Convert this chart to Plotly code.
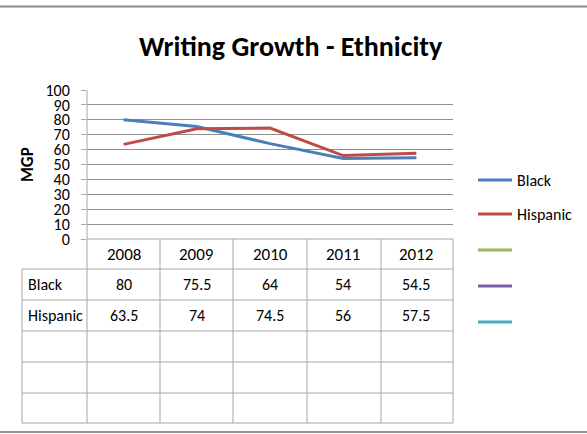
import plotly.graph_objects as go

years = ["2008", "2009", "2010", "2011", "2012"]
series_names = ["Black", "Hispanic", "", "", ""]
black = [80, 75.5, 64, 54, 54.5]
hispanic = [63.5, 74, 74.5, 56, 57.5]
colors = ["#4A7EBB", "#BE4B48", "#98B954", "#7D60A0", "#46AAC5"]
y_ticks = [0, 10, 20, 30, 40, 50, 60, 70, 80, 90, 100]

W, H = 587, 434
L, R, T, B = 87, 453, 90, 239  # plot area in pixels
FONT = "Liberation Sans Narrow, Carlito, Roboto Condensed, Arial Narrow, sans-serif"


def px(x):
    return (x - L) / (R - L)


def py(y):
    return (B - y) / (B - T)


fig = go.Figure()
x_idx = list(range(len(years)))
for name, vals, col in [(series_names[0], black, colors[0]), (series_names[1], hispanic, colors[1])]:
    fig.add_trace(go.Scatter(x=x_idx, y=vals, mode="lines", name=name,
                             line=dict(color=col, width=3), showlegend=False))

shapes = []
annotations = []
grid_col = "#909090"
tab_col = "#A6A6A6"


def txt(x, y, text, size=16, xref="paper", xanchor="center", **kw):
    annotations.append(dict(x=x, y=y, xref=xref, yref="paper", text=text, showarrow=False,
                            xanchor=xanchor, yanchor="middle",
                            font=dict(family=FONT, size=size, color="#000"), **kw))


col_edges = [87, 160, 233, 307, 381, 453]
row_edges = [239, 269, 300, 331, 362, 393, 423]
label_left = 22

for i, yy in enumerate(row_edges):
    x0 = L if i == 0 else label_left
    shapes.append(dict(type="line", xref="paper", yref="paper", x0=px(x0), x1=px(R),
                       y0=py(yy), y1=py(yy), line=dict(color=tab_col, width=1)))
for i, xx in enumerate(col_edges):
    shapes.append(dict(type="line", xref="paper", yref="paper", x0=px(xx), x1=px(xx),
                       y0=py(239), y1=py(423), line=dict(color=tab_col, width=1)))
shapes.append(dict(type="line", xref="paper", yref="paper", x0=px(label_left), x1=px(label_left),
                   y0=py(269), y1=py(423), line=dict(color=tab_col, width=1)))
shapes.append(dict(type="line", xref="paper", yref="paper", x0=0, x1=0,
                   y0=0, y1=1, line=dict(color=tab_col, width=1)))

for i, yr in enumerate(years):
    txt(i, py(254), yr, xref="x", size=17)
rows = [(series_names[0], black), (series_names[1], hispanic)]
row_centers = [284.5, 315.5]
for (nm, vals), yc in zip(rows, row_centers):
    txt(px(label_left + 4), py(yc), nm, xanchor="left")
    for i, v in enumerate(vals):
        txt(i, py(yc), f"{v:g}", xref="x")

leg_y = [180, 214, 250, 286, 322]
for nm, col, yy in zip(series_names, colors, leg_y):
    shapes.append(dict(type="line", xref="paper", yref="paper", x0=px(478), x1=px(512),
                       y0=py(yy), y1=py(yy), line=dict(color=col, width=3)))
    if nm:
        txt(px(515), py(yy), nm, xanchor="left")

txt(px(291), py(46), "<b>Writing Growth - Ethnicity</b>", size=28)
txt(px(27), py(165), "<b>MGP</b>", size=17, textangle=-90)

shapes.append(dict(type="line", xref="paper", yref="paper", x0=px(0), x1=px(W),
                   y0=py(6.5), y1=py(6.5), line=dict(color="#8C8C8C", width=2)))
shapes.append(dict(type="line", xref="paper", yref="paper", x0=px(0), x1=px(W),
                   y0=py(432), y1=py(432), line=dict(color="#8C8C8C", width=2)))

fig.update_layout(
    width=W, height=H,
    margin=dict(l=L, r=W - R, t=T, b=H - B, pad=0),
    paper_bgcolor="white", plot_bgcolor="white",
    xaxis=dict(range=[-0.5, len(years) - 0.5], showticklabels=False, showgrid=False,
               zeroline=False, showline=False, fixedrange=True),
    yaxis=dict(range=[0, 100], tickvals=y_ticks, ticktext=[str(t) for t in y_ticks],
               showgrid=True, gridcolor=grid_col, gridwidth=1, zeroline=False,
               showline=False, ticks="outside", ticklen=5, tickcolor=tab_col,
               tickfont=dict(family=FONT, size=16, color="#000"), ticklabelstandoff=8),
    shapes=shapes, annotations=annotations, showlegend=False,
)

fig.write_html("out.html", config={"displayModeBar": False},
               post_script="document.body.style.margin='0';document.body.style.overflow='hidden';")
